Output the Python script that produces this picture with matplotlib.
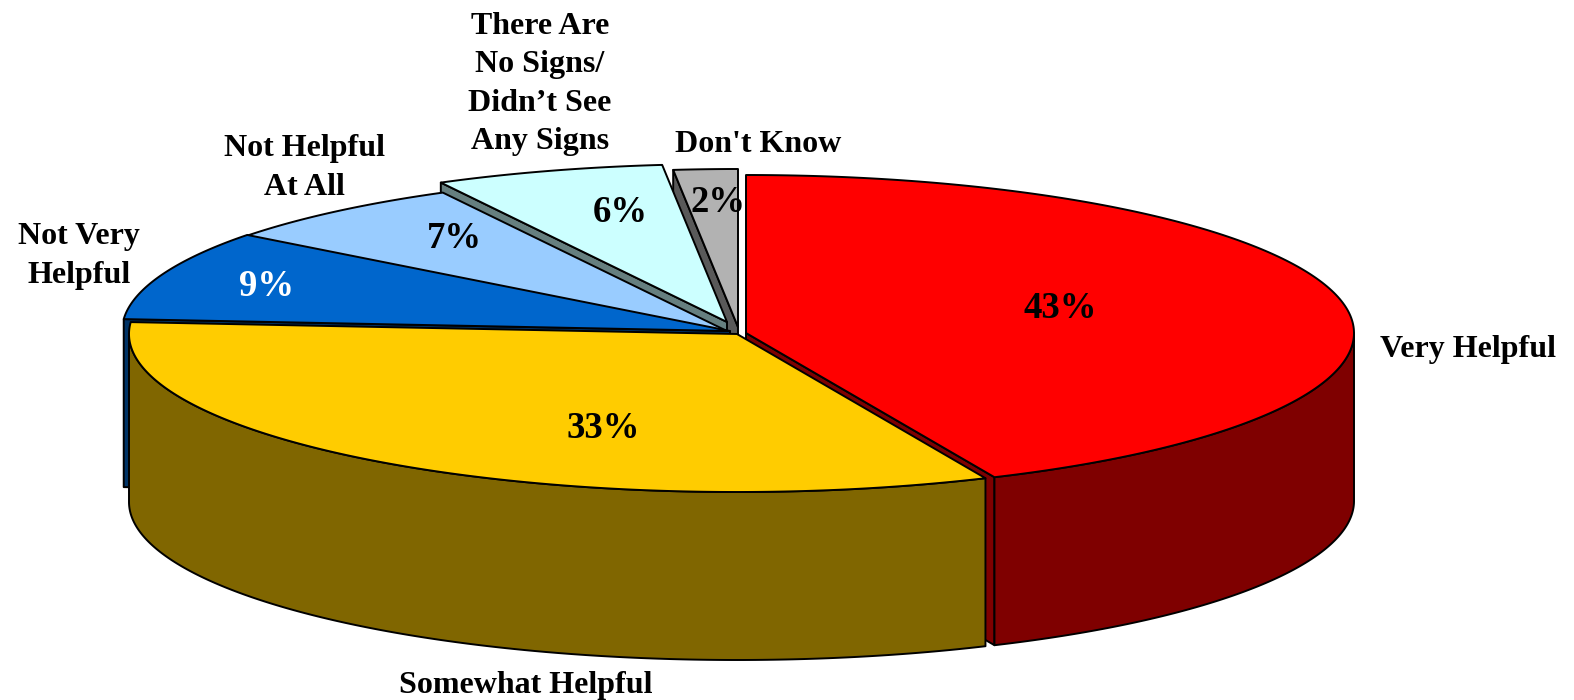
import numpy as np
from matplotlib import pyplot as plt
from matplotlib.patches import Polygon

shares = [43.3, 32.9, 9.2, 6.8, 6.1, 1.7]
pct_labels = ['43%', '33%', '9%', '7%', '6%', '2%']
cat_labels = ['Very Helpful', 'Somewhat Helpful', 'Not Very\nHelpful',
              'Not Helpful\nAt All', 'There Are\nNo Signs/\nDidn\u2019t See\nAny Signs', "Don't Know"]
colors = ['#FF0000', '#FFCC00', '#0066CC', '#99CCFF', '#CCFFFF', '#B2B2B2']
wall_colors = ['#7F0000', '#806600', '#003366', '#4C667F', '#667F7F', '#595959']
pct_colors = ['black', 'black', 'white', 'black', 'black', 'black']

# exploded slice apexes, pixels
apex_x = [746, 737, 730, 729, 727, 738]
apex_y = [333, 334, 331, 332, 322, 327]
pct_pos = [(1060, 308), (603, 429), (267, 287), (454, 238), (620, 213), (718, 203)]
cat_pos = [(1468, 349), (526, 686), (79, 256), (304, 168), (540, 84), (758, 144)]

RX, RY, DEPTH = 608, 158, 168

plt.rcParams['font.family'] = ['Liberation Serif', 'DejaVu Sans']
fig = plt.figure(figsize=(15.74, 7), dpi=100)
ax = fig.add_axes([0, 0, 1, 1])
ax.set_xlim(0, 1574)
ax.set_ylim(700, 0)
ax.axis('off')


def rim(cx, cy, a0, a1):
    t = np.radians(np.linspace(a0, a1, 200))
    return np.column_stack([cx + RX * np.sin(t), cy - RY * np.cos(t)])


def add_poly(pts, color, z):
    ax.add_patch(Polygon(pts, closed=True, facecolor=color, edgecolor='black',
                         linewidth=1.4, joinstyle='round', zorder=z))


def radial_wall(cx, cy, ang, color, z):
    r = rim(cx, cy, ang, ang)[0]
    pts = [r, (cx, cy), (cx, cy + DEPTH), (r[0], r[1] + DEPTH)]
    add_poly(pts, color, z)


edges = np.cumsum([0] + shares) * 3.6

# painter's order: back slices first, red and yellow last
order = [5, 4, 3, 2, 0, 1]
for n, i in enumerate(order):
    a0, a1 = edges[i], edges[i + 1]
    cx, cy = apex_x[i], apex_y[i]
    z = 2 + n * 0.1
    if np.sin(np.radians(a0)) < 0:
        radial_wall(cx, cy, a0, wall_colors[i], z)
    if np.sin(np.radians(a1)) > 0:
        radial_wall(cx, cy, a1, wall_colors[i], z)
    lo, hi = max(a0, 90), min(a1, 270)
    if lo < hi:
        top = rim(cx, cy, lo, hi)
        bottom = top[::-1] + [0, DEPTH]
        add_poly(np.vstack([top, bottom]), wall_colors[i], z + 0.01)
    add_poly(np.vstack([[(cx, cy)], rim(cx, cy, a0, a1)]), colors[i], z + 0.02)

for i in range(len(shares)):
    ax.text(pct_pos[i][0], pct_pos[i][1], pct_labels[i], color=pct_colors[i], fontsize=26.5,
            fontweight='bold', ha='center', va='center', zorder=10)
    ax.text(cat_pos[i][0], cat_pos[i][1], cat_labels[i], color='black', fontsize=23,
            fontweight='bold', ha='center', va='center', linespacing=1.42, zorder=10)

fig.savefig('out.png', dpi=100)
